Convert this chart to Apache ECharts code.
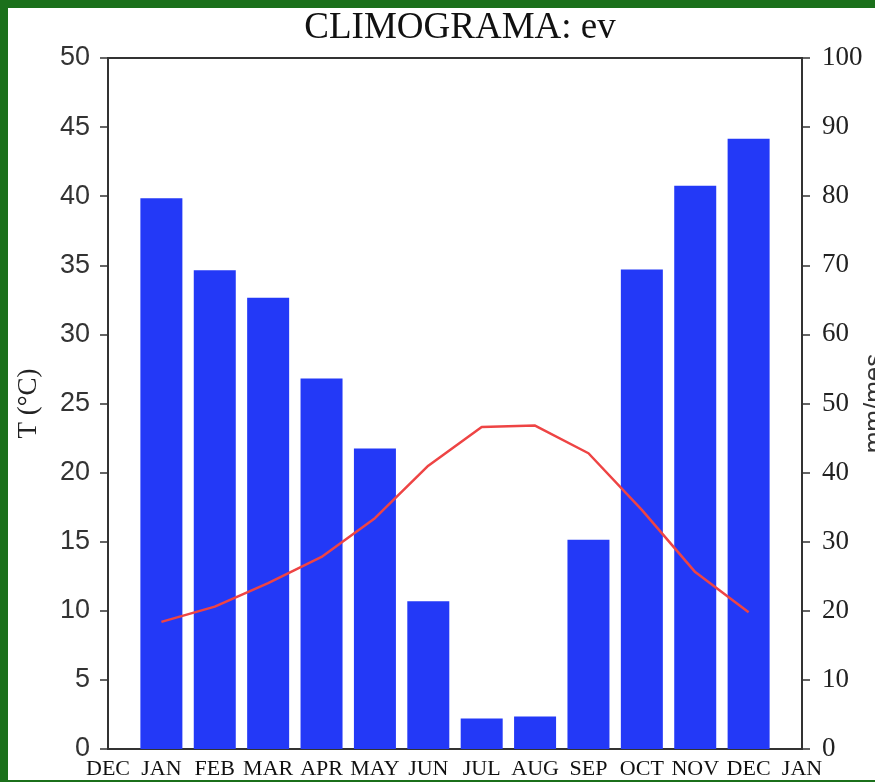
<!DOCTYPE html>
<html>
<head>
<meta charset="utf-8">
<script src="https://cdn.jsdelivr.net/npm/echarts@6/dist/echarts.min.js"></script>
<style>
html,body{margin:0;padding:0;background:#fff;}
#chart{width:875px;height:782px;}
</style>
</head>
<body>
<div id="chart"></div>
<script>
// Tick labels on the x axis (month boundaries, DEC..JAN)
var monthTicks = ['DEC','JAN','FEB','MAR','APR','MAY','JUN','JUL','AUG','SEP','OCT','NOV','DEC','JAN'];
// Precipitation (mm/mes), JAN..DEC
var precip = [79.7, 69.3, 65.3, 53.6, 43.5, 21.4, 4.4, 4.7, 30.3, 69.4, 81.5, 88.3];
// Temperature (°C), JAN..DEC
var temp = [9.2, 10.3, 12.0, 13.9, 16.7, 20.5, 23.3, 23.4, 21.4, 17.3, 12.8, 9.9];

var barData = [null].concat(precip).concat([null]);
var lineData = [null].concat(temp).concat([null]);

var chart = echarts.init(document.getElementById('chart'));
var axisCol = '#333';
chart.setOption({
  backgroundColor: '#ffffff',
  animation: false,
  title: {
    text: 'CLIMOGRAMA: ev',
    left: 455, top: 5, textAlign: 'center',
    textStyle: {fontFamily: 'Liberation Serif', fontSize: 37, fontWeight: 'normal', color: '#111'}
  },
  grid: {left: 108, right: 73, top: 58, bottom: 33, containLabel: false, outerBoundsMode: 'none',
         show: true, borderColor: axisCol, borderWidth: 2, backgroundColor: 'transparent'},
  xAxis: {
    type: 'category', data: monthTicks, boundaryGap: false,
    axisLine: {lineStyle: {color: axisCol, width: 2}},
    axisTick: {inside: true, length: 6, lineStyle: {color: axisCol, width: 1.5}},
    axisLabel: {interval: 0, margin: 9, color: '#111', fontFamily: 'Liberation Serif', fontSize: 22},
    splitLine: {show: false}
  },
  yAxis: [
    {
      type: 'value', min: 0, max: 50, interval: 5, position: 'left',
      name: 'T (°C)', nameLocation: 'middle', nameGap: 66, nameRotate: 90, nameMoveOverlap: false,
      nameTextStyle: {fontFamily: 'Liberation Serif', fontSize: 27, color: '#222'},
      axisLine: {show: true, lineStyle: {color: axisCol, width: 2}},
      axisTick: {show: true, length: 8, lineStyle: {color: axisCol, width: 1.5}},
      axisLabel: {margin: 18, color: '#333', fontFamily: 'Liberation Sans', fontSize: 27},
      splitLine: {show: false}
    },
    {
      type: 'value', min: 0, max: 100, interval: 10, position: 'right',
      name: 'mm/mes', nameLocation: 'middle', nameGap: 60, nameRotate: 90, nameMoveOverlap: false,
      nameTextStyle: {fontFamily: 'Liberation Sans', fontSize: 26, color: '#333'},
      axisLine: {show: true, lineStyle: {color: axisCol, width: 2}},
      axisTick: {show: true, length: 8, lineStyle: {color: axisCol, width: 1.5}},
      axisLabel: {margin: 20, color: '#222', fontFamily: 'Liberation Serif', fontSize: 27},
      splitLine: {show: false}
    }
  ],
  series: [
    {
      type: 'bar', yAxisIndex: 1, data: barData, barWidth: 42,
      itemStyle: {color: '#2339f7'}, z: 2
    },
    {
      type: 'line', yAxisIndex: 0, data: lineData, symbol: 'none', connectNulls: false,
      lineStyle: {color: '#ee4444', width: 2.5}, z: 3
    }
  ],
  graphic: [
    {type: 'rect', shape: {x: 0, y: 0, width: 8, height: 782}, style: {fill: '#1b701b'}, z: 100},
    {type: 'rect', shape: {x: 0, y: 0, width: 875, height: 8}, style: {fill: '#1b701b'}, z: 100},
    {type: 'rect', shape: {x: 0, y: 780, width: 875, height: 2}, style: {fill: '#1b701b'}, z: 100}
  ]
});
</script>
</body>
</html>
